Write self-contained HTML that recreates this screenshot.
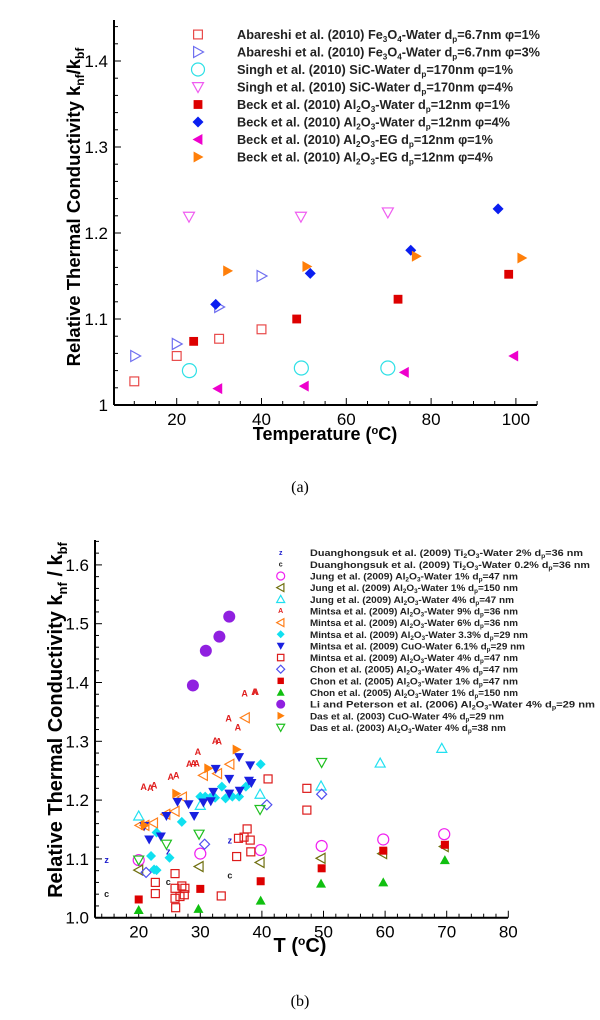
<!DOCTYPE html>
<html><head><meta charset="utf-8"><style>
html,body{margin:0;padding:0;background:#fff;}
body{width:600px;height:1020px;position:relative;overflow:hidden;font-family:"Liberation Sans",Arial,sans-serif;}
svg{position:absolute;left:0;top:0;}
</style></head><body>
<svg id="s" width="600" height="1020" viewBox="0 0 600 1020">
<text x="300" y="492" font-size="16" text-anchor="middle" font-family="Liberation Serif,serif">(a)</text>
<text x="300" y="1006" font-size="16" text-anchor="middle" font-family="Liberation Serif,serif">(b)</text>
</svg>
<script>
// ---------- Chart A data ----------
const aSeriesNames=["Abareshi 1%","Abareshi 3%","Singh 1%","Singh 4%","Beck W 1%","Beck W 4%","Beck EG 1%","Beck EG 4%"];
const aX1=[10,20,30,40], aY1=[1.0275,1.057,1.077,1.088];
const aX2=[10.2,20,30,40], aY2=[1.057,1.071,1.114,1.15];
const aX3=[23,49.4,69.8], aY3=[1.040,1.043,1.043];
const aX4=[22.9,49.3,69.8], aY4=[1.219,1.219,1.224];
const aX5=[24,48.3,72.2,98.3], aY5=[1.074,1.100,1.123,1.152];
const aX6=[29.2,51.5,75.2,95.8], aY6=[1.117,1.153,1.18,1.228];
const aX7=[29.7,50.1,73.7,99.5], aY7=[1.019,1.022,1.038,1.057];
const aX8=[32,50.7,76.5,101.4], aY8=[1.156,1.161,1.173,1.171];
const aXTicks=[20,40,60,80,100];
const aYTicks=[1,1.1,1.2,1.3,1.4];
const aYTickLabels=["1","1.1","1.2","1.3","1.4"];

// ---------- Chart B data ----------
const bXz=[14.8,24.8,34.8], bYz=[1.098,1.112,1.131];
const bXc=[14.8,24.8,34.8], bYc=[1.040,1.06,1.071];
const bX1=[20,30,39.8,49.7,59.7,69.6], bY1=[1.098,1.109,1.115,1.122,1.133,1.142];
const bX2=[20,29.8,39.7,49.6,59.6,69.6], bY2=[1.081,1.087,1.094,1.101,1.109,1.121];
const bX3=[20,30,39.7,49.6,59.2,69.2], bY3=[1.173,1.191,1.210,1.224,1.263,1.288];
const bX4=[20.8,21.9,22.5,25.2,26.1,28.2,28.9,29.4,29.6,32.4,33,34.6,36.1,37.2,38.8,39], bY4=[1.222,1.22,1.224,1.239,1.241,1.261,1.262,1.262,1.281,1.3,1.299,1.338,1.323,1.381,1.383,1.383];
const bX5=[20.2,21,22.4,24.4,25.9,27.1,30.5,32.8,34.8,37.3], bY5=[1.157,1.157,1.161,1.176,1.181,1.205,1.242,1.245,1.261,1.34];
const bX6=[22,22.5,22.9,22.9,25,27,30,30.8,31.6,32.4,33.5,34.1,35.2,36.3,37.4,39.8], bY6=[1.105,1.082,1.081,1.145,1.102,1.163,1.206,1.206,1.204,1.204,1.223,1.203,1.206,1.206,1.223,1.261];
const bX7=[20.9,21.7,23.6,24.5,26.3,28.1,29,30.5,31.7,32.1,32.5,34.7,34.7,36.4,36.3,37.9,38.1,38.3], bY7=[1.156,1.133,1.138,1.173,1.197,1.193,1.173,1.196,1.198,1.214,1.253,1.236,1.211,1.216,1.273,1.233,1.259,1.229];
const bX8=[22.7,22.7,25.9,25.9,25.9,26,26.7,27,27.4,27.5,33.4,35.9,36.2,37.1,37.6,38.1,38.2,41,47.3,47.3], bY8=[1.06,1.041,1.075,1.05,1.033,1.017,1.036,1.054,1.039,1.05,1.037,1.104,1.135,1.137,1.151,1.132,1.112,1.236,1.22,1.183];
const bX9=[21.2,30.7,40.8,49.7], bY9=[1.077,1.125,1.192,1.21];
const bX10=[20,30,39.8,49.7,59.7,69.7], bY10=[1.031,1.049,1.062,1.084,1.114,1.124];
const bX11=[20,29.7,39.8,49.6,59.7,69.7], bY11=[1.013,1.015,1.029,1.058,1.06,1.098];
const bX12=[28.8,30.9,33.1,34.7], bY12=[1.395,1.454,1.478,1.512];
const bX13=[21,26.1,31.3,35.9], bY13=[1.157,1.211,1.254,1.286];
const bX14=[20,24.5,29.8,39.7,49.7], bY14=[1.098,1.125,1.142,1.184,1.264];
const bXTicks=[20,30,40,50,60,70,80];
const bYTicks=[1.0,1.1,1.2,1.3,1.4,1.5,1.6];
const bYTickLabels=["1.0","1.1","1.2","1.3","1.4","1.5","1.6"];

const NS="http://www.w3.org/2000/svg";
const svg=document.getElementById('s');
function mk(tag,attrs,parent){const e=document.createElementNS(NS,tag);for(const k in attrs)e.setAttribute(k,attrs[k]);(parent||svg).appendChild(e);return e;}

const axA={x:v=>176.7+(v-20)*4.24, y:v=>405-(v-1)*860};
const axB={x:v=>138.7+(v-20)*6.16, y:v=>917.7-(v-1)*588};

function marker(g,type,cx,cy,r,color,name){
  let e;
  const open=type.startsWith('o');
  const fill=open?'none':color, st=open?color:'none';
  const t=type.replace(/^[of]/,'');
  const at={fill:fill,stroke:st,'stroke-width':1.2};
  if(t==='sq'){e=mk('rect',Object.assign({x:cx-r*0.8,y:cy-r*0.8,width:r*1.6,height:r*1.6},at),g);}
  else if(t==='ci'){e=mk('circle',Object.assign({cx:cx,cy:cy,r:r},at),g);}
  else if(t==='di'){e=mk('polygon',Object.assign({points:`${cx},${cy-r} ${cx+r},${cy} ${cx},${cy+r} ${cx-r},${cy}`},at),g);}
  else if(t==='tr'){e=mk('polygon',Object.assign({points:`${cx-r*0.8},${cy-r} ${cx+r},${cy} ${cx-r*0.8},${cy+r}`},at),g);}
  else if(t==='tl'){e=mk('polygon',Object.assign({points:`${cx+r*0.8},${cy-r} ${cx-r},${cy} ${cx+r*0.8},${cy+r}`},at),g);}
  else if(t==='tu'){e=mk('polygon',Object.assign({points:`${cx-r},${cy+r*0.8} ${cx+r},${cy+r*0.8} ${cx},${cy-r}`},at),g);}
  else if(t==='td'){e=mk('polygon',Object.assign({points:`${cx-r},${cy-r*0.8} ${cx+r},${cy-r*0.8} ${cx},${cy+r}`},at),g);}
  else {e=mk('text',{x:cx,y:cy+r*0.6,fill:color,'font-size':r*2,'font-weight':'bold','text-anchor':'middle','font-family':'Liberation Sans,sans-serif'},g);e.textContent=t;}
  
  
  return e;
}

function axes(ax,cfg){
  const g=mk('g',{});
  
  
  mk('line',{x1:cfg.x0,y1:cfg.yTop,x2:cfg.x0,y2:cfg.yb,stroke:'#000','stroke-width':2},g);
  mk('line',{x1:cfg.x0,y1:cfg.yb,x2:cfg.xr,y2:cfg.yb,stroke:'#000','stroke-width':2},g);
  for(let v=cfg.yMin;v<=cfg.yMax+1e-9;v+=cfg.yMinor){const y=ax.y(v);const maj=Math.abs((v-cfg.yMin)/cfg.yMajor-Math.round((v-cfg.yMin)/cfg.yMajor))<1e-6;mk('line',{x1:cfg.x0,y1:y,x2:cfg.x0+(maj?7:4),y2:y,stroke:'#000','stroke-width':1},g);}
  for(let v=cfg.xMin;v<=cfg.xMax+1e-9;v+=cfg.xMinor){const x=ax.x(v);if(x<cfg.x0)continue;const maj=Math.abs(v/cfg.xMajor-Math.round(v/cfg.xMajor))<1e-6;mk('line',{x1:x,y1:cfg.yb,x2:x,y2:cfg.yb-(maj?7:4),stroke:'#000','stroke-width':1},g);}
  cfg.yTicks.forEach((v,i)=>{const t=mk('text',{x:cfg.x0-6,y:ax.y(v)+6,'font-size':cfg.fs,'text-anchor':'end'},g);t.textContent=cfg.yLabels[i];});
  cfg.xTicks.forEach(v=>{const t=mk('text',{x:ax.x(v),y:cfg.yb+cfg.fs+3,'font-size':cfg.fs,'text-anchor':'middle'},g);t.textContent=v;});
}

// ---- Chart A ----
axes(axA,{name:'chart-a',x0:114,xr:537,yb:405,yTop:20,yMin:1,yMax:1.44,yMinor:0.02,yMajor:0.1,xMin:5,xMax:105,xMinor:5,xMajor:20,yTicks:aYTicks,yLabels:aYTickLabels,xTicks:aXTicks,fs:17});
const aSer=[[aX1,aY1,'osq','#e84a4a'],[aX2,aY2,'otr','#6f6ff0'],[aX3,aY3,'oci','#2fe0e6'],[aX4,aY4,'otd','#ef5cf0'],[aX5,aY5,'fsq','#dd0000'],[aX6,aY6,'fdi','#0a1ef0'],[aX7,aY7,'ftl','#ee00cc'],[aX8,aY8,'ftr','#ff7f0a']];
const gA=mk('g',{});


aSer.forEach((s,si)=>{s[0].forEach((x,i)=>marker(gA,s[2],axA.x(x),axA.y(s[1][i]),s[2]==='oci'?7:5.5,s[3],'point-a-series'+(si+1)));});
let t=mk('text',{x:0,y:0,'font-size':18.5,'font-weight':'bold','text-anchor':'middle',transform:'translate(80,207) rotate(-90)'});
t.innerHTML='Relative Thermal Conductivity k<tspan font-size="12" dy="4">nf</tspan><tspan dy="-4">/k</tspan><tspan font-size="12" dy="4">bf</tspan>';

t=mk('text',{x:325,y:440,'font-size':18,'font-weight':'bold','text-anchor':'middle'});
t.innerHTML='Temperature (<tspan font-size="11" dy="-6">o</tspan><tspan dy="6">C)</tspan>';

const s7=(a)=>`<tspan font-size="8" dy="3">${a}</tspan><tspan dy="-3">`;
const aLeg=[
 `Abareshi et al. (2010) Fe${s7(3)}O</tspan>${s7(4)}-Water  d</tspan>${s7('p')}=6.7nm φ=1%</tspan>`,
 `Abareshi et al. (2010) Fe${s7(3)}O</tspan>${s7(4)}-Water  d</tspan>${s7('p')}=6.7nm φ=3%</tspan>`,
 `Singh et al. (2010) SiC-Water  d${s7('p')}=170nm φ=1%</tspan>`,
 `Singh et al. (2010) SiC-Water  d${s7('p')}=170nm φ=4%</tspan>`,
 `Beck et al. (2010) Al${s7(2)}O</tspan>${s7(3)}-Water  d</tspan>${s7('p')}=12nm φ=1%</tspan>`,
 `Beck et al. (2010) Al${s7(2)}O</tspan>${s7(3)}-Water  d</tspan>${s7('p')}=12nm φ=4%</tspan>`,
 `Beck et al. (2010) Al${s7(2)}O</tspan>${s7(3)}-EG  d</tspan>${s7('p')}=12nm φ=1%</tspan>`,
 `Beck et al. (2010) Al${s7(2)}O</tspan>${s7(3)}-EG  d</tspan>${s7('p')}=12nm φ=4%</tspan>`];
const aLegLen=[303,303,276,276,273,273,256,256];
aLeg.forEach((h,i)=>{const y=34.5+i*17.5;marker(svg,aSer[i][2],198,y,aSer[i][2]==='oci'?6.5:5.5,aSer[i][3],'legend-a-marker');
 const tx=mk('text',{x:237,y:y+4.5,'font-size':12.5,'font-weight':'bold',fill:'#222','textLength':aLegLen[i],lengthAdjust:'spacingAndGlyphs'});tx.innerHTML=h;
 });

// ---- Chart B ----
axes(axB,{name:'chart-b',x0:95,xr:508,yb:917.7,yTop:540,yMin:1,yMax:1.64,yMinor:0.02,yMajor:0.1,xMin:14,xMax:80,xMinor:2,xMajor:10,yTicks:bYTicks,yLabels:bYTickLabels,xTicks:bXTicks,fs:17});
const bSer=[[bXz,bYz,'fz','#1a1acc'],[bXc,bYc,'fc','#222'],[bX1,bY1,'oci','#f020f0'],[bX2,bY2,'otl','#707010'],[bX3,bY3,'otu','#20e0f0'],[bX4,bY4,'fA','#e02020'],[bX5,bY5,'otl','#ff7f1a'],[bX6,bY6,'fdi','#10e0f0'],[bX7,bY7,'ftd','#1a20e0'],[bX8,bY8,'osq','#dd1a1a'],[bX9,bY9,'odi','#5050f0'],[bX10,bY10,'fsq','#dd0000'],[bX11,bY11,'ftu','#10c010'],[bX12,bY12,'fci','#9020e0'],[bX13,bY13,'ftr','#ff7f0a'],[bX14,bY14,'otd','#20c020']];
const gB=mk('g',{});


bSer.forEach((s,si)=>{const sz=s[2]==='fci'?6:(s[2]==='oci'?5.5:(s[2].length===2?4.5:5));s[0].forEach((x,i)=>marker(gB,s[2],axB.x(x),axB.y(s[1][i]),sz,s[3],'point-b-series'+(si+1)));});
t=mk('text',{x:0,y:0,'font-size':20,'font-weight':'bold','text-anchor':'middle',transform:'translate(62,720) rotate(-90)'});
t.innerHTML='Relative Thermal Conductivity  k<tspan font-size="13" dy="5">nf</tspan><tspan dy="-5"> / k</tspan><tspan font-size="13" dy="5">bf</tspan>';

t=mk('text',{x:300,y:952,'font-size':20,'font-weight':'bold','text-anchor':'middle'});
t.innerHTML='T (<tspan font-size="12" dy="-7">o</tspan><tspan dy="7">C)</tspan>';

const sb=(a)=>`<tspan font-size="6" dy="2">${a}</tspan><tspan dy="-2">`;
const bLeg=[
 `Duanghongsuk et al. (2009) Ti${sb(2)}O</tspan>${sb(3)}-Water 2%  d</tspan>${sb('p')}=36 nm</tspan>`,
 `Duanghongsuk et al. (2009) Ti${sb(2)}O</tspan>${sb(3)}-Water 0.2% d</tspan>${sb('p')}=36 nm</tspan>`,
 `Jung et al. (2009) Al${sb(2)}O</tspan>${sb(3)}-Water 1%  d</tspan>${sb('p')}=47 nm</tspan>`,
 `Jung et al. (2009) Al${sb(2)}O</tspan>${sb(3)}-Water 1%  d</tspan>${sb('p')}=150 nm</tspan>`,
 `Jung et al. (2009) Al${sb(2)}O</tspan>${sb(3)}-Water 4%  d</tspan>${sb('p')}=47 nm</tspan>`,
 `Mintsa et al. (2009) Al${sb(2)}O</tspan>${sb(3)}-Water 9%  d</tspan>${sb('p')}=36 nm</tspan>`,
 `Mintsa et al. (2009) Al${sb(2)}O</tspan>${sb(3)}-Water 6%  d</tspan>${sb('p')}=36 nm</tspan>`,
 `Mintsa et al. (2009) Al${sb(2)}O</tspan>${sb(3)}-Water 3.3%  d</tspan>${sb('p')}=29 nm</tspan>`,
 `Mintsa et al. (2009) CuO-Water 6.1%  d${sb('p')}=29 nm</tspan>`,
 `Mintsa et al. (2009) Al${sb(2)}O</tspan>${sb(3)}-Water 4%  d</tspan>${sb('p')}=47 nm</tspan>`,
 `Chon et al. (2005) Al${sb(2)}O</tspan>${sb(3)}-Water 4%  d</tspan>${sb('p')}=47 nm</tspan>`,
 `Chon et al. (2005) Al${sb(2)}O</tspan>${sb(3)}-Water 1%  d</tspan>${sb('p')}=47 nm</tspan>`,
 `Chon et al. (2005) Al${sb(2)}O</tspan>${sb(3)}-Water 1%  d</tspan>${sb('p')}=150 nm</tspan>`,
 `Li and Peterson et al. (2006) Al${sb(2)}O</tspan>${sb(3)}-Water 4%  d</tspan>${sb('p')}=29 nm</tspan>`,
 `Das et al. (2003) CuO-Water 4% d${sb('p')}=29 nm</tspan>`,
 `Das et al. (2003) Al${sb(2)}O</tspan>${sb(3)}-Water 4% d</tspan>${sb('p')}=38 nm</tspan>`];
const bLegLen=[273,280,208,208,204,208,208,218,215,208,208,208,208,285,194,196];
bLeg.forEach((h,i)=>{const y=552.7+i*11.65;const sz=bSer[i][2]==='fci'?4.5:(bSer[i][2].length===2?3.5:4);marker(svg,bSer[i][2],280.7,y,sz,bSer[i][3],'legend-b-marker');
 const tx=mk('text',{x:310,y:y+3.5,'font-size':9.5,'font-weight':'bold',fill:'#222',textLength:bLegLen[i],lengthAdjust:'spacingAndGlyphs'});tx.innerHTML=h;
 });
</script>
</body></html>
